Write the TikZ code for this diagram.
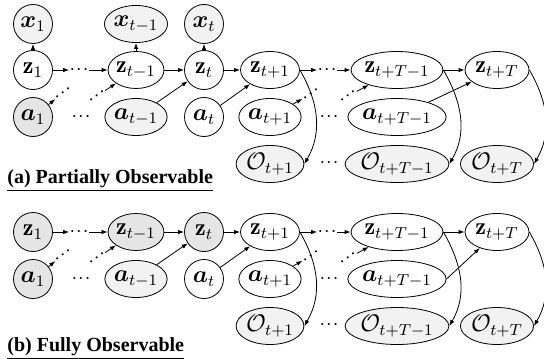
\documentclass[tikz,border=0pt]{standalone}
\usepackage{bm}
\usepackage{fontspec}
\newfontfamily\capfont{Liberation Serif}
\usetikzlibrary{shapes.geometric,arrows.meta}

\definecolor{obslight}{gray}{0.95}
\definecolor{obsdark}{gray}{0.9}

\newcommand{\threedots}{$\mathord{\cdotp}\mkern1mu\mathord{\cdotp}\mkern1mu\mathord{\cdotp}$}

\tikzset{
  var/.style={draw, circle, minimum size=19.5pt, inner sep=0pt, font=\large},
  evar/.style={draw, ellipse, minimum height=18.5pt, inner sep=0pt, font=\large},
  obs/.style={fill=obslight},
  obsd/.style={fill=obsdark},
  dotsnode/.style={inner sep=0pt},
  caplabel/.style={anchor=base west, inner sep=0pt, font=\capfont\bfseries},
  arr/.style={-{Latex[length=3pt,width=2.2pt]}, line width=0.4pt}
}

\begin{document}
\begin{tikzpicture}[x=0.5pt,y=0.5pt]
\useasboundingbox (0,0) rectangle (544,-358);

% (a) partially observable
\node[var,obs] (x1) at (33,-24) {$\bm{x}_1$};
\node[var] (z1) at (33,-70) {$\mathbf{z}_1$};
\node[var,obsd] (a1) at (33,-117) {$\bm{a}_1$};

\node[evar,obs,minimum width=27.5pt] (xt1) at (136,-24) {$\bm{x}_{t-1}$};
\node[evar,minimum width=27.5pt] (zt1) at (136,-70) {$\mathbf{z}_{t-1}$};
\node[evar,obs,minimum width=27.5pt] (at1) at (136,-117) {$\bm{a}_{t-1}$};

\node[var,obs] (xt) at (204,-24) {$\bm{x}_t$};
\node[var] (zt) at (204,-70) {$\mathbf{z}_t$};
\node[var] (at) at (204,-117) {$\bm{a}_t$};

\node[evar,minimum width=29.5pt] (zp1) at (270,-70) {$\mathbf{z}_{t+1}$};
\node[evar,minimum width=29.5pt] (ap1) at (270,-117) {$\bm{a}_{t+1}$};
\node[evar,obs,minimum width=29.5pt] (op1) at (270,-164) {$\mathcal{O}_{t+1}$};

\node[evar,minimum width=42pt] (ztT1) at (397,-70) {$\mathbf{z}_{t+T-1}$};
\node[evar,minimum width=42pt] (atT1) at (397,-117) {$\bm{a}_{t+T-1}$};
\node[evar,obs,minimum width=42pt] (otT1) at (397,-164) {$\mathcal{O}_{t+T-1}$};

\node[evar,minimum width=32pt] (ztT) at (497,-70) {$\mathbf{z}_{t+T}$};
\node[evar,obs,minimum width=32pt] (otT) at (497,-164) {$\mathcal{O}_{t+T}$};

\node[dotsnode] (dz1) at (79,-70) {\threedots};
\node[dotsnode] (da1) at (81,-117) {\threedots};
\node[dotsnode,rotate=35] (dd1) at (63,-93) {\threedots};
\node[dotsnode,rotate=35] (dd2) at (97,-96) {\threedots};
\node[dotsnode] (dz2) at (327,-70) {\threedots};
\node[dotsnode] (da2) at (329,-117) {\threedots};
\node[dotsnode] (do2) at (329,-163) {\threedots};
\node[dotsnode,rotate=35] (dd3) at (311,-94) {\threedots};
\node[dotsnode,rotate=35] (dd4) at (348,-96) {\threedots};

\draw[arr] (z1) -- (x1);
\draw[arr] (z1) -- (dz1);
\draw[arr] (dz1) -- (zt1);
\draw[arr] (a1) -- (dd1);
\draw[arr] (dd2) -- (zt1);
\draw[arr] (zt1) -- (xt1);
\draw[arr] (zt1) -- (zt);
\draw[arr] (at1) -- (zt);
\draw[arr] (zt) -- (xt);
\draw[arr] (zt) -- (zp1);
\draw[arr] (at) -- (zp1);
\draw[arr] (zp1) -- (dz2);
\draw[arr] (dz2) -- (ztT1);
\draw[arr] (ap1) -- (dd3);
\draw[arr] (dd4) -- (ztT1);
\draw[arr] (ztT1) -- (ztT);
\draw[arr] (atT1) -- (ztT);
\draw[arr] (zp1.east) to[out=-60,in=60] (op1.east);
\draw[arr] (ztT1.east) to[out=-60,in=60] (otT1.east);
\draw[arr] (ztT.east) to[out=-60,in=60] (otT.east);

\node[caplabel] (capa) at (7,-183) {\underline{(a) Partially Observable}};

% (b) fully observable
\node[var,obsd] (bz1) at (33,-232) {$\mathbf{z}_1$};
\node[var,obsd] (ba1) at (33,-279) {$\bm{a}_1$};

\node[evar,obsd,minimum width=27.5pt] (bzt1) at (136,-232) {$\mathbf{z}_{t-1}$};
\node[evar,obs,minimum width=27.5pt] (bat1) at (136,-279) {$\bm{a}_{t-1}$};

\node[var,obsd] (bzt) at (204,-232) {$\mathbf{z}_t$};
\node[var] (bat) at (204,-279) {$\bm{a}_t$};

\node[evar,minimum width=29.5pt] (bzp1) at (270,-232) {$\mathbf{z}_{t+1}$};
\node[evar,minimum width=29.5pt] (bap1) at (270,-279) {$\bm{a}_{t+1}$};
\node[evar,obs,minimum width=29.5pt] (bop1) at (270,-326) {$\mathcal{O}_{t+1}$};

\node[evar,minimum width=42pt] (bztT1) at (397,-232) {$\mathbf{z}_{t+T-1}$};
\node[evar,minimum width=42pt] (batT1) at (397,-279) {$\bm{a}_{t+T-1}$};
\node[evar,obs,minimum width=42pt] (botT1) at (397,-326) {$\mathcal{O}_{t+T-1}$};

\node[evar,minimum width=32pt] (bztT) at (497,-232) {$\mathbf{z}_{t+T}$};
\node[evar,obs,minimum width=32pt] (botT) at (497,-326) {$\mathcal{O}_{t+T}$};

\node[dotsnode] (bdz1) at (79,-232) {\threedots};
\node[dotsnode] (bda1) at (81,-279) {\threedots};
\node[dotsnode,rotate=35] (bdd1) at (63,-255) {\threedots};
\node[dotsnode,rotate=35] (bdd2) at (97,-258) {\threedots};
\node[dotsnode] (bdz2) at (327,-232) {\threedots};
\node[dotsnode] (bda2) at (329,-279) {\threedots};
\node[dotsnode] (bdo2) at (329,-325) {\threedots};
\node[dotsnode,rotate=35] (bdd3) at (311,-256) {\threedots};
\node[dotsnode,rotate=35] (bdd4) at (348,-258) {\threedots};

\draw[arr] (bz1) -- (bdz1);
\draw[arr] (bdz1) -- (bzt1);
\draw[arr] (ba1) -- (bdd1);
\draw[arr] (bdd2) -- (bzt1);
\draw[arr] (bzt1) -- (bzt);
\draw[arr] (bat1) -- (bzt);
\draw[arr] (bzt) -- (bzp1);
\draw[arr] (bat) -- (bzp1);
\draw[arr] (bzp1) -- (bdz2);
\draw[arr] (bdz2) -- (bztT1);
\draw[arr] (bap1) -- (bdd3);
\draw[arr] (bdd4) -- (bztT1);
\draw[arr] (bztT1) -- (bztT);
\draw[arr] (batT1.east) -- (bztT);
\draw[arr] (bzp1.east) to[out=-60,in=60] (bop1.east);
\draw[arr] (bztT1.east) to[out=-60,in=60] (botT1.east);
\draw[arr] (bztT.east) to[out=-60,in=60] (botT.east);

\node[caplabel] (capb) at (7,-351) {\underline{(b) Fully Observable}};

\end{tikzpicture}
\end{document}
